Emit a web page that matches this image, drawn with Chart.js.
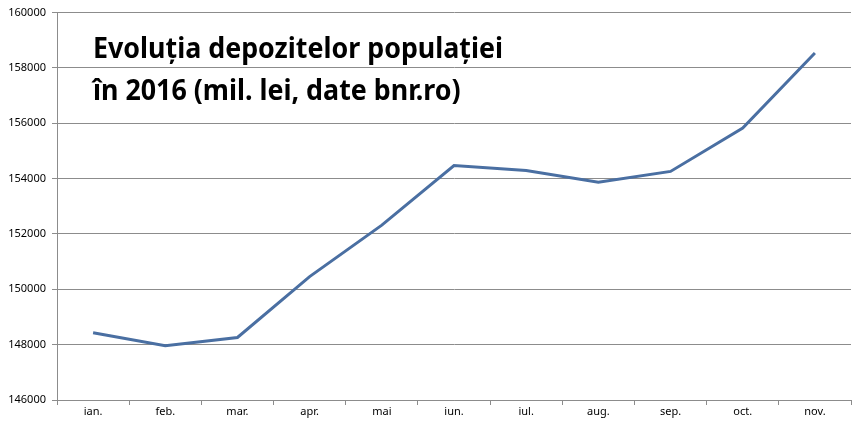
<!DOCTYPE html>
<html>
<head>
  <meta charset="UTF-8">
  <title>Evoluția depozitelor populației</title>
  <script src="https://cdn.jsdelivr.net/npm/chart.js"></script>
  <style>
    html, body { margin: 0; padding: 0; background: #fff; }
    #wrap { width: 861px; height: 428px; }
  </style>
</head>
<body>
  <div id="wrap"><canvas id="chart"></canvas></div>

  <script>
    // data (mil. lei)
    const months = ['ian.', 'feb.', 'mar.', 'apr.', 'mai', 'iun.', 'iul.', 'aug.', 'sep.', 'oct.', 'nov.'];
    const deposits = [148430, 147960, 148260, 150460, 152320, 154470, 154290, 153870, 154260, 155830, 158540];
    const titleLines = ['Evoluția depozitelor populației', 'în 2016 (mil. lei, date bnr.ro)'];

    const axisFont = { family: 'Noto Sans', size: 11 };
    const gridGray = '#8c8c8c';

    // title drawn inside the plot area, like the Excel text box
    const titleBox = {
      id: 'titleBox',
      afterDraw(chart) {
        const ctx = chart.ctx;
        ctx.save();
        ctx.font = 'bold 28px "Noto Sans"';
        ctx.fillStyle = '#000';
        ctx.textBaseline = 'alphabetic';
        const w = ctx.measureText(titleLines[0]).width;
        const sx = 410 / w;
        ctx.translate(93, 0);
        ctx.scale(sx, 1);
        ctx.fillText(titleLines[0], 0, 58);
        ctx.fillText(titleLines[1], 0, 100);
        ctx.restore();
      }
    };

    new Chart(document.getElementById('chart'), {
      type: 'line',
      data: {
        labels: months,
        datasets: [{
          data: deposits,
          borderColor: '#4a6fa2',
          borderWidth: 3,
          pointRadius: 0,
          tension: 0,
          fill: false
        }]
      },
      options: {
        responsive: true,
        maintainAspectRatio: false,
        animation: false,
        layout: { padding: { top: 10, right: 10, left: 0, bottom: 0 } },
        plugins: {
          legend: { display: false },
          tooltip: { enabled: false }
        },
        scales: {
          x: {
            offset: true,
            grid: {
              offset: true,
              drawOnChartArea: false,
              drawTicks: true,
              tickLength: 5,
              color: gridGray
            },
            border: { color: gridGray },
            ticks: { color: '#000', font: axisFont, padding: 0, maxRotation: 0 },
            afterFit: s => { s.height = 28; }
          },
          y: {
            min: 146000,
            max: 160000,
            ticks: {
              stepSize: 2000,
              color: '#000',
              font: axisFont,
              padding: 6,
              callback: v => String(v)
            },
            grid: { color: gridGray, tickLength: 5 },
            border: { color: gridGray },
            afterFit: s => { s.width = 57; }
          }
        }
      },
      plugins: [titleBox]
    });
  </script>
</body>
</html>
